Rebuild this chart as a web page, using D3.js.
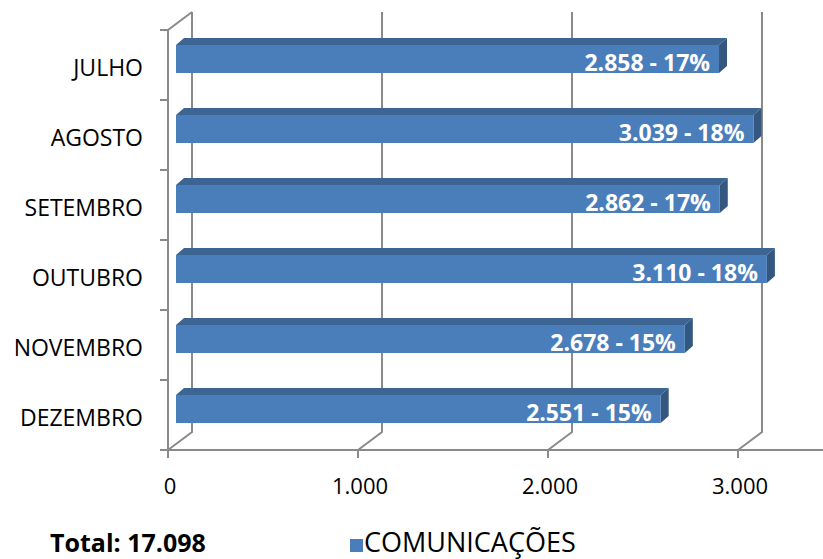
<!DOCTYPE html>
<html><head><meta charset="utf-8">
<script src="https://cdn.jsdelivr.net/npm/d3@7"></script>
<style>
html,body{margin:0;padding:0;background:#fff;}
svg{display:block;}
text{font-family:"Open Sans",sans-serif;}
</style></head>
<body>
<svg id="c" width="823" height="559"></svg>
<script>
const categories = ["JULHO","AGOSTO","SETEMBRO","OUTUBRO","NOVEMBRO","DEZEMBRO"];
const values = [2858, 3039, 2862, 3110, 2678, 2551];
const percents = ["17%","18%","17%","18%","15%","15%"];
const xTicks = [0, 1000, 2000, 3000];
const totalLabel = "Total: 17.098";
const seriesName = "COMUNICAÇÕES";

const fmt = d3.formatLocale({decimal:",", thousands:".", grouping:[3], currency:["",""]}).format(",.0f");

const svg = d3.select("#c");
const W = 823, H = 559;
// front plane
const x = d3.scaleLinear().domain([0, 3500]).range([168, 833]);
const y = d3.scaleBand().domain(categories).range([30, 450]);
const DX = 24, DY = -18;      // wall depth
const bdx1 = 8, bdy1 = -6;    // bar front offset
const bdx2 = 16, bdy2 = -13;  // bar back offset
const gridColor = "#8a8a8a";

const g = svg.append("g");
// back-wall gridlines with floor diagonals
xTicks.forEach(t => {
  const xf = x(t);
  g.append("path")
    .attr("d", `M${xf+DX},${30+DY} L${xf+DX},${450+DY} L${xf},450`)
    .attr("fill","none").attr("stroke",gridColor).attr("stroke-width",2);
});
// left wall front edge and top diagonal
g.append("path")
  .attr("d", `M${x(0)+DX},${30+DY} L${x(0)},30 L${x(0)},450`)
  .attr("fill","none").attr("stroke",gridColor).attr("stroke-width",2);
// front floor line
g.append("line").attr("x1",x(0)).attr("x2",W).attr("y1",450).attr("y2",450)
  .attr("stroke",gridColor).attr("stroke-width",2);
// x ticks
xTicks.forEach(t => {
  g.append("line").attr("x1",x(t)).attr("x2",x(t)).attr("y1",450).attr("y2",458)
    .attr("stroke",gridColor).attr("stroke-width",2);
  g.append("text").attr("x",x(t)+2).attr("y",494).attr("text-anchor","middle")
    .attr("font-size",22).attr("fill","#000").text(fmt(t));
});
// y ticks at band boundaries
const bounds = categories.map(c => y(c)).concat([450]);
bounds.forEach(b => {
  g.append("line").attr("x1",x(0)-8).attr("x2",x(0)).attr("y1",b).attr("y2",b)
    .attr("stroke",gridColor).attr("stroke-width",2);
});
// category labels
categories.forEach(c => {
  g.append("text").attr("x",143).attr("y",y(c)+y.bandwidth()/2+11).attr("text-anchor","end")
    .attr("font-size",23).attr("fill","#000").text(c);
});

// bars
const bh = 28;
categories.forEach((c,i) => {
  const v = values[i];
  const cy = y(c) + y.bandwidth()/2 + bdy1;
  const x0 = x(0) + bdx1, x1 = x(v) + bdx1;
  const t = cy - bh/2, b = cy + bh/2;
  const ddx = bdx2 - bdx1, ddy = bdy2 - bdy1;
  // top face
  g.append("path").attr("d", `M${x0},${t} L${x0+ddx},${t+ddy} L${x1+ddx},${t+ddy} L${x1},${t} Z`)
    .attr("fill","#3d6593");
  // side face
  g.append("path").attr("d", `M${x1},${t} L${x1+ddx},${t+ddy} L${x1+ddx},${b+ddy} L${x1},${b} Z`)
    .attr("fill","#33577f");
  // front face
  g.append("rect").attr("x",x0).attr("y",t).attr("width",x1-x0).attr("height",bh)
    .attr("fill","#4a7ebb");
  g.append("text").attr("x",x1-9).attr("y",b-2.5).attr("text-anchor","end")
    .attr("font-size",23).attr("font-weight","bold")
    .attr("fill","#fff").text(fmt(v) + " - " + percents[i]);
});

// total and legend
svg.append("text").attr("x",50).attr("y",552)
  .attr("font-size",25).attr("font-weight","bold").attr("fill","#000").text(totalLabel);
svg.append("rect").attr("x",350).attr("y",539).attr("width",13).attr("height",13).attr("fill","#4a7ebb");
svg.append("text").attr("x",364).attr("y",552)
  .attr("font-size",27).attr("fill","#000").text(seriesName);
</script>
</body></html>
